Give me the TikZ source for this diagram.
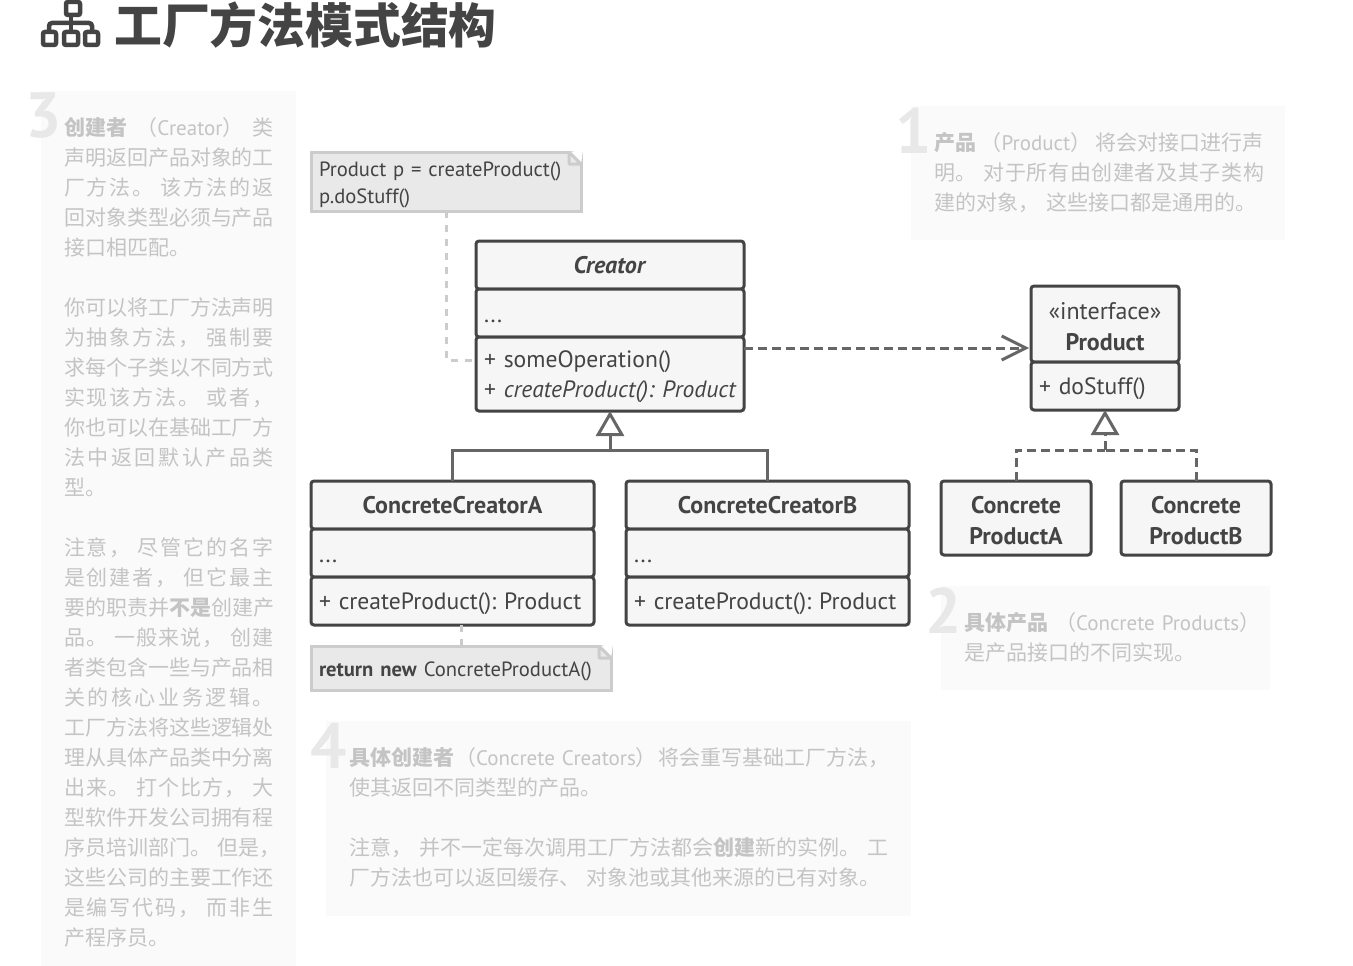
\documentclass[tikz,border=0pt]{standalone}
\usepackage{fontspec}
\setmainfont{PT Sans}
\newfontfamily\cjk{Noto Sans CJK SC}
\usetikzlibrary{positioning,
        arrows.meta}
\definecolor{umlline}{HTML}{444444}
\definecolor{umlfill}{HTML}{F6F6F6}
\definecolor{linkline}{HTML}{666666}
\definecolor{notefill}{HTML}{E9E9E9}
\definecolor{noteline}{HTML}{CCCCCC}
\definecolor{panelfill}{HTML}{FAFAFA}
\definecolor{paneltext}{HTML}{C4C4C4}
\definecolor{panelnum}{HTML}{E8E8E8}
% stretch between CJK characters, for the justified lines
\newXeTeXintercharclass\hanclass
\count255="4E00
\loop
  \XeTeXcharclass\count255=\hanclass
  \ifnum\count255<"9FFF \advance\count255 by 1 \repeat
\XeTeXcharclass`，=\hanclass
\XeTeXcharclass`。=\hanclass
\XeTeXcharclass`、=\hanclass
\XeTeXinterchartoks\hanclass\hanclass={\hskip 0pt plus 1fil\relax}
\hyphenpenalty=10000
\frenchspacing
\newcommand{\lat}[1]{{\fontspec{PT Sans}#1}}
\newcommand{\jl}[1]{\hbox to\hsize{\XeTeXinterchartokenstate=1 #1}\par}
\newcommand{\fl}[1]{\hbox to\hsize{#1}\par}
\newcommand{\pl}[1]{\hbox{#1}\par}
\newcommand{\dotsline}{\raisebox{-9pt}[0pt][0pt]{...}}
\newcommand{\topstrut}{\rule{0pt}{22pt}}
\newcommand{\notestrut}{\rule{0pt}{21pt}}
\newcommand{\umlfont}{\fontsize{24}{31}\selectfont\spaceskip=4.8pt\relax}
\newcommand{\opsfont}{\fontsize{23.6}{30}\selectfont\spaceskip=4.2pt\relax}
\newcommand{\notefont}{\fontsize{20.6}{27}\selectfont\spaceskip=4.2pt\relax}
\newcommand{\notefold}[1]{%
  \fill[white] ([xshift=-12pt]#1.north east) -- ([xshift=2pt,yshift=2pt]#1.north east) -- ([yshift=-12pt]#1.north east) -- cycle;
  \draw[noteline,line width=3pt,fill=notefill,line join=bevel] ([xshift=-12pt]#1.north east) -- ([xshift=-12pt,yshift=-12pt]#1.north east) -- ([yshift=-12pt]#1.north east) -- cycle;}
\tikzset{
  classbox/.style={draw=umlline,fill=umlfill,line width=3pt,rounded corners=3pt,inner sep=0pt,outer sep=0pt,anchor=north west,text=umlline,font=\umlfont},
  opsbox/.style={classbox,align=left,font=\opsfont},
  notebox/.style={draw=noteline,fill=notefill,line width=3pt,inner sep=0pt,outer sep=0pt,anchor=north west,text=umlline,font=\notefont},
  panelbox/.style={fill=panelfill,inner sep=0pt,outer sep=0pt,anchor=north west},
  paneltxt/.style={inner sep=0pt,outer sep=0pt,anchor=north west,text=paneltext,font=\cjk\fontsize{21}{30}\selectfont},
  panelno/.style={inner sep=0pt,text=panelnum,font=\fontsize{64}{64}\selectfont\bfseries},
  linksolid/.style={draw=linkline,line width=3pt},
  linkdash/.style={linksolid,dash pattern=on 9pt off 5pt},
  notelink/.style={draw=noteline,line width=3pt,dash pattern=on 7pt off 7pt},
  opentri/.style={-{Triangle[open,length=25pt,width=28pt,line width=3pt]}}
}
\begin{document}
\begin{tikzpicture}[x=1pt,y=-1pt]
        \useasboundingbox (0,0) rectangle (1353,966);

        % heading
        \node [inner sep=0pt,anchor=west,text=umlline,font=\cjk\bfseries\fontsize{47.8}{54}\selectfont] (title) at (114,25) {工厂方法模式结构};
        \draw [umlline,line width=4.5pt,rounded corners=2pt] (66,2) rectangle (80,15);
        \draw [umlline,line width=4.5pt,rounded corners=2pt] (43,32) rectangle (56,45);
        \draw [umlline,line width=4.5pt,rounded corners=2pt] (64,32) rectangle (78,45);
        \draw [umlline,line width=4.5pt,rounded corners=2pt] (85,32) rectangle (98,45);
        \draw [umlline,line width=4.5pt] (71,15) -- (71,32);
        \draw [umlline,line width=4.5pt,rounded corners=3pt] (49,30) -- (49,23) -- (92,23) -- (92,30);

        % side panels
        \node [panelbox,minimum width=255pt,minimum height=875pt] (panelcreator) at (41,91) {};
        \node [panelbox,minimum width=374pt,minimum height=134pt] (panelproduct) at (911,106) {};
        \node [panelbox,minimum width=329pt,minimum height=104pt] (panelconcrete) at (941,586) {};
        \node [panelbox,minimum width=585pt,minimum height=195pt] (panelcreators) at (326,721) {};
        \node [panelno] (no3) at (44,116) {3};
        \node [panelno] (no1) at (914,131) {1};
        \node [panelno] (no2) at (944,611) {2};
        \node [panelno] (no4) at (329,746) {4};

        \node [paneltxt,text width=210pt] (txtcreator) at (64,117) {%
\fl{\textbf{创建者}\hfil（\lat{Creator}）\hfil 类}
\jl{声明返回产品对象的工}
\jl{厂方法。 该方法的返}
\jl{回对象类型必须与产品}
\pl{接口相匹配。}
\pl{}
\jl{你可以将工厂方法声明}
\jl{为抽象方法， 强制要}
\jl{求每个子类以不同方式}
\jl{实现该方法。 或者，}
\jl{你也可以在基础工厂方}
\jl{法中返回默认产品类}
\pl{型。}
\pl{}
\jl{注意， 尽管它的名字}
\jl{是创建者， 但它最主}
\jl{要的职责并\textbf{不是}创建产}
\jl{品。 一般来说， 创建}
\jl{者类包含一些与产品相}
\jl{关的核心业务逻辑。}
\jl{工厂方法将这些逻辑处}
\jl{理从具体产品类中分离}
\jl{出来。 打个比方， 大}
\jl{型软件开发公司拥有程}
\jl{序员培训部门。 但是，}
\jl{这些公司的主要工作还}
\jl{是编写代码， 而非生}
\pl{产程序员。}};
        \node [paneltxt,text width=330pt] (txtproduct) at (934,132) {%
\fl{\textbf{产品}\hfil（\lat{Product}）\hfil 将会对接口进行声}
\jl{明。 对于所有由创建者及其子类构}
\pl{建的对象， 这些接口都是通用的。}};
        \node [paneltxt,text width=300pt] (txtconcrete) at (964,612) {%
\pl{\textbf{具体产品} （\lat{Concrete Products}）}
\pl{是产品接口的不同实现。}};
        \node [paneltxt,text width=540pt] (txtcreators) at (349,747) {%
\fl{\textbf{具体创建者}\hfil（\lat{Concrete Creators}）\hfil 将会重写基础工厂方法，}
\pl{使其返回不同类型的产品。}
\pl{}
\jl{注意， 并不一定每次调用工厂方法都会\textbf{创建}新的实例。 工}
\pl{厂方法也可以返回缓存、 对象池或其他来源的已有对象。}};

        % classes
        \node [classbox,minimum width=268pt,minimum height=48pt] (creatorhead) at (476,241) {\textbf{\textit{Creator}}};
        \node [opsbox,minimum width=268pt,minimum height=48pt,text width=252pt] (creatorattr) at (476,289) {\dotsline};
        \node [opsbox,minimum width=268pt,minimum height=74pt,text width=252pt] (creatorops) at (476,337) {\topstrut + someOperation()\\\mbox{+ \textit{createProduct(): Product}}};

        \node [classbox,minimum width=283pt,minimum height=48pt] (creatorAhead) at (311,481) {\textbf{ConcreteCreatorA}};
        \node [opsbox,minimum width=283pt,minimum height=48pt,text width=267pt] (creatorAattr) at (311,529) {\dotsline};
        \node [opsbox,minimum width=283pt,minimum height=48pt,text width=267pt] (creatorAops) at (311,577) {\topstrut + createProduct(): Product};

        \node [classbox,minimum width=283pt,minimum height=48pt] (creatorBhead) at (626,481) {\textbf{ConcreteCreatorB}};
        \node [opsbox,minimum width=283pt,minimum height=48pt,text width=267pt] (creatorBattr) at (626,529) {\dotsline};
        \node [opsbox,minimum width=283pt,minimum height=48pt,text width=267pt] (creatorBops) at (626,577) {\topstrut + createProduct(): Product};

        \node [classbox,minimum width=148pt,minimum height=76pt,align=center] (producthead) at (1031,286) {\topstrut«interface»\\\textbf{Product}};
        \node [opsbox,minimum width=148pt,minimum height=48pt,text width=132pt] (productops) at (1031,362) {\topstrut + doStuff()};

        \node [classbox,minimum width=150pt,minimum height=74pt,align=center] (productA) at (941,481) {\topstrut\textbf{Concrete}\\\textbf{ProductA}};
        \node [classbox,minimum width=150pt,minimum height=74pt,align=center] (productB) at (1121,481) {\topstrut\textbf{Concrete}\\\textbf{ProductB}};

        % notes
        \node [notebox,minimum width=270pt,minimum height=59pt,text width=254pt,align=left] (noteuse) at (311,152) {\notestrut Product p = createProduct()\\p.doStuff()};
        \node [notebox,minimum width=300pt,minimum height=44pt,text width=284pt,align=left] (notenew) at (311,646) {\notestrut\textbf{return new} ConcreteProductA()};
        \notefold{noteuse}
        \notefold{notenew}

        % connectors
        \coordinate (creatorhook) at (476,360);
        \coordinate (creatorout) at (744,348);
        \coordinate (productin) at (1031,348);
        \coordinate (creatorfork) at (610,450);
        \coordinate (productfork) at (1105,450);

        \draw [notelink] (noteuse.south) |- (creatorhook);
        \draw [notelink] (notenew.north) -- (notenew.north |- creatorAops.south);
        \draw [linkdash,-{Straight Barb[length=24pt,width=24pt,line width=3pt]},shorten >=2pt] (creatorout) -- (productin);
        \draw [linksolid] (creatorAhead.north) |- (creatorfork);
        \draw [linksolid] (creatorBhead.north) |- (creatorfork);
        \draw [linksolid,opentri] (creatorfork) -- (creatorops.south);
        \draw [linkdash] (productA.north) |- (productfork);
        \draw [linkdash] (productB.north) |- (productfork);
        \draw [linkdash,opentri] (productfork) -- (productops.south);
    \end{tikzpicture}
\end{document}
